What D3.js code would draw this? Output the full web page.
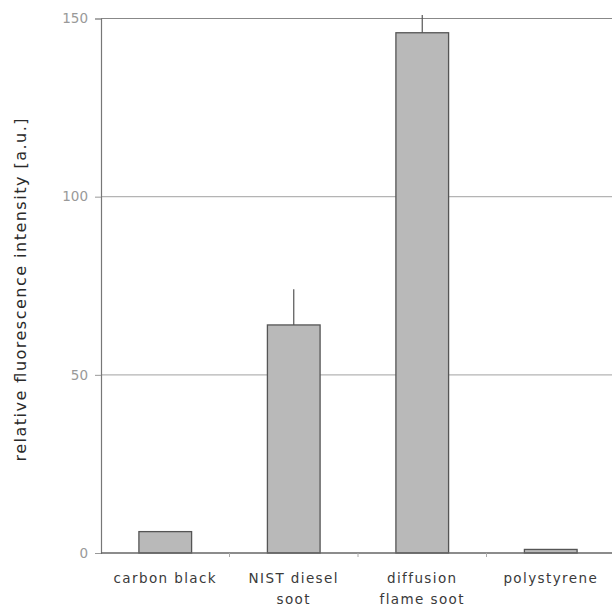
<!DOCTYPE html>
<html>
<head>
<meta charset="utf-8">
<script src="https://cdn.jsdelivr.net/npm/d3@7"></script>
<style>
  html, body { margin: 0; padding: 0; background: #fff; }
  svg { display: block; font-family: "DejaVu Sans", sans-serif; }
</style>
</head>
<body>
<svg id="chart" width="612" height="606"></svg>
<script>
// Samples and their measured fluorescence
const categories = [["carbon black"], ["NIST diesel", "soot"], ["diffusion", "flame soot"], ["polystyrene"]];
const values = [6, 64, 146, 1];
const errors = [0, 10, 5, 0];
const yTicks = [0, 50, 100, 150];
const yTitle = "relative fluorescence intensity [a.u.]";

const svg = d3.select("#chart");
const plotLeft = 101, plotRight = 615, plotTop = 18.5, plotBottom = 553;

const x = d3.scaleBand()
  .domain(d3.range(categories.length))
  .range([plotLeft, plotRight])
  .paddingInner(0.59)
  .paddingOuter(0.295);

const y = d3.scaleLinear().domain([0, 150]).range([plotBottom, plotTop]);

// horizontal grid lines
svg.append("g").selectAll("line")
  .data(yTicks.filter(d => d > 0))
  .join("line")
  .attr("x1", plotLeft).attr("x2", 612)
  .attr("y1", d => y(d)).attr("y2", d => y(d))
  .attr("stroke", d => d === 150 ? "#888" : "#b4b4b4")
  .attr("stroke-width", 1.2);

// y axis
const yAxis = svg.append("g")
  .attr("transform", `translate(${plotLeft},0)`)
  .call(d3.axisLeft(y).tickValues(yTicks).tickSize(6).tickPadding(7));
yAxis.select(".domain").attr("stroke", "#777").attr("stroke-width", 1.2);
yAxis.selectAll(".tick line").attr("stroke", "#999");
yAxis.selectAll(".tick text")
  .attr("fill", "#999").attr("font-size", 13.5)
  .attr("font-family", "DejaVu Sans, sans-serif");

// bars
svg.append("g").selectAll("rect")
  .data(values)
  .join("rect")
  .attr("x", (d, i) => x(i))
  .attr("y", d => y(d))
  .attr("width", x.bandwidth())
  .attr("height", d => y(0) - y(d))
  .attr("fill", "#b9b9b9")
  .attr("stroke", "#555")
  .attr("stroke-width", 1.3);

// error bars
svg.append("g").selectAll("line")
  .data(values.map((v, i) => ({ v, e: errors[i], i })).filter(d => d.e > 0))
  .join("line")
  .attr("x1", d => x(d.i) + x.bandwidth() / 2)
  .attr("x2", d => x(d.i) + x.bandwidth() / 2)
  .attr("y1", d => y(d.v))
  .attr("y2", d => y(d.v + d.e))
  .attr("stroke", "#555")
  .attr("stroke-width", 1.2);

// x axis baseline with ticks between categories
svg.append("line")
  .attr("x1", plotLeft).attr("x2", 612)
  .attr("y1", plotBottom).attr("y2", plotBottom)
  .attr("stroke", "#666").attr("stroke-width", 1.3);
svg.append("g").selectAll("line")
  .data(d3.range(1, categories.length))
  .join("line")
  .attr("x1", i => x(i) - x.step() * x.paddingInner() / 2)
  .attr("x2", i => x(i) - x.step() * x.paddingInner() / 2)
  .attr("y1", plotBottom).attr("y2", plotBottom + 4)
  .attr("stroke", "#aaa");

// category labels
const labels = svg.append("g").selectAll("text")
  .data(categories)
  .join("text")
  .attr("x", (d, i) => x(i) + x.bandwidth() / 2)
  .attr("y", 583)
  .attr("text-anchor", "middle")
  .attr("font-size", 13.5)
  .attr("letter-spacing", 1.4)
  .attr("fill", "#3a3a3a");
labels.selectAll("tspan")
  .data(d => d)
  .join("tspan")
  .attr("x", function () { return this.parentNode.getAttribute("x"); })
  .attr("dy", (d, j) => j === 0 ? 0 : 21)
  .text(d => d);

// y axis title
svg.append("text")
  .attr("transform", `translate(26,290) rotate(-90)`)
  .attr("text-anchor", "middle")
  .attr("font-size", 16)
  .attr("textLength", 343)
  .attr("lengthAdjust", "spacing")
  .attr("fill", "#2a2a2a")
  .text(yTitle);
</script>
</body>
</html>
